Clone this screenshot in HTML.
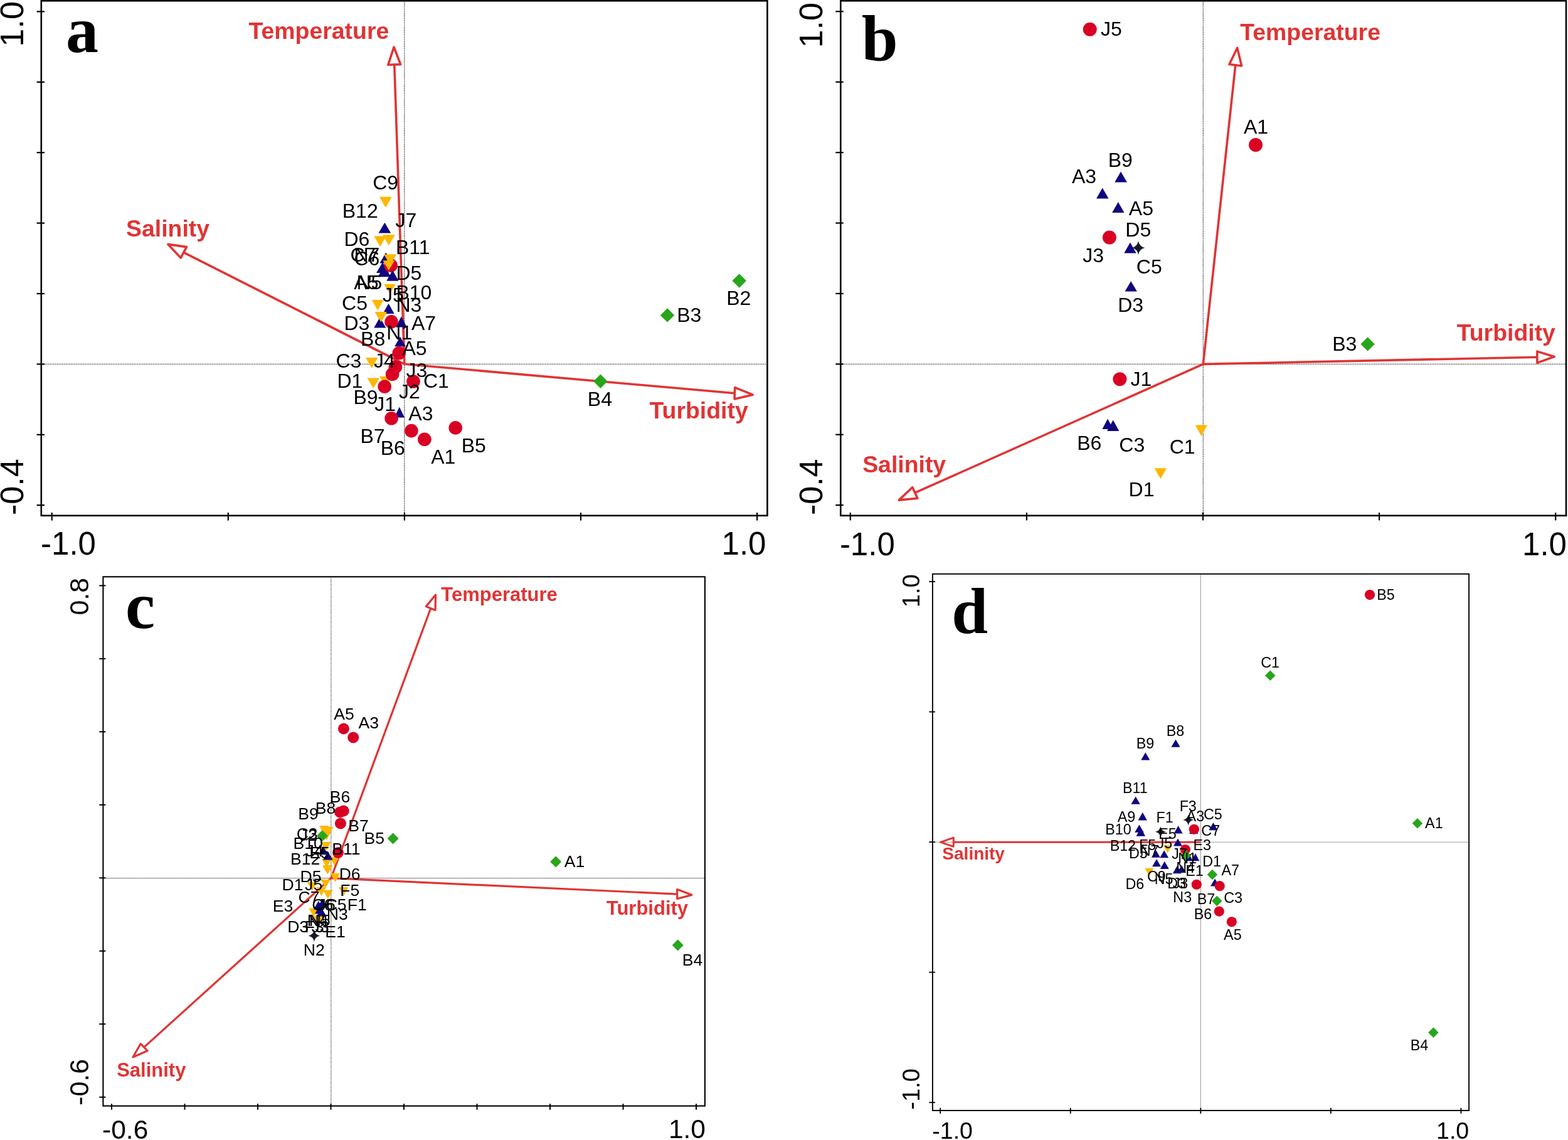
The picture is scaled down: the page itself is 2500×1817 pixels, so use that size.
<!DOCTYPE html>
<html><head><meta charset="utf-8"><title>CCA biplots</title>
<style>html,body{margin:0;padding:0;background:#fff;overflow:hidden;}svg{display:block;}</style>
</head><body>
<svg width="2500" height="1817" viewBox="0 0 2500 1817">
<rect x="0" y="0" width="2500" height="1817" fill="#fff"/>
<line x1="65.8" y1="580.3" x2="1223.4" y2="580.3" stroke="#222" stroke-width="1.3" stroke-dasharray="1.39 1.39"/>
<line x1="644.8" y1="1.3" x2="644.8" y2="821.8" stroke="#222" stroke-width="1.3" stroke-dasharray="1.39 1.39"/>
<line x1="58.6" y1="18.4" x2="71" y2="18.4" stroke="#000" stroke-width="2.2"/>
<line x1="58.6" y1="130.8" x2="71" y2="130.8" stroke="#000" stroke-width="2.2"/>
<line x1="58.6" y1="243.2" x2="71" y2="243.2" stroke="#000" stroke-width="2.2"/>
<line x1="58.6" y1="355.6" x2="71" y2="355.6" stroke="#000" stroke-width="2.2"/>
<line x1="58.6" y1="468" x2="71" y2="468" stroke="#000" stroke-width="2.2"/>
<line x1="58.6" y1="580.4" x2="71" y2="580.4" stroke="#000" stroke-width="2.2"/>
<line x1="58.6" y1="692.8" x2="71" y2="692.8" stroke="#000" stroke-width="2.2"/>
<line x1="58.6" y1="805.2" x2="71" y2="805.2" stroke="#000" stroke-width="2.2"/>
<line x1="82.7" y1="817" x2="82.7" y2="829.6" stroke="#000" stroke-width="2.2"/>
<line x1="363.8" y1="817" x2="363.8" y2="829.6" stroke="#000" stroke-width="2.2"/>
<line x1="644.9" y1="817" x2="644.9" y2="829.6" stroke="#000" stroke-width="2.2"/>
<line x1="926" y1="817" x2="926" y2="829.6" stroke="#000" stroke-width="2.2"/>
<line x1="1207.1" y1="817" x2="1207.1" y2="829.6" stroke="#000" stroke-width="2.2"/>
<text transform="translate(37.3,37.3) rotate(-90)" x="-37.18" y="0" font-size="52" font-family="Liberation Sans" fill="#000">1.0</text>
<text transform="translate(37.4,775.9) rotate(-90)" x="-45.11" y="0" font-size="52" font-family="Liberation Sans" fill="#000">-0.4</text>
<text x="65.09" y="884" font-size="51" font-family="Liberation Sans" fill="#000">-1.0</text>
<text x="1150.54" y="884" font-size="51" font-family="Liberation Sans" fill="#000">1.0</text>
<text x="104.88" y="82.7" font-size="104" font-family="Liberation Serif" font-weight="bold" fill="#000">a</text>
<line x1="644.8" y1="580.3" x2="628.78" y2="102.91" stroke="#E03434" stroke-width="3.6"/>
<path d="M628.04 75.04L618.87 103.24L638.69 102.59Z" fill="none" stroke="#E03434" stroke-width="3.6" stroke-linejoin="round"/>
<line x1="644.8" y1="580.3" x2="292.84" y2="402.3" stroke="#E03434" stroke-width="3.6"/>
<path d="M267.88 389.36L297.48 393.64L288.21 410.96Z" fill="none" stroke="#E03434" stroke-width="3.6" stroke-linejoin="round"/>
<line x1="644.8" y1="580.3" x2="1171.38" y2="626.75" stroke="#E03434" stroke-width="3.6"/>
<path d="M1200.17 629.18L1171.73 617.59L1171.03 635.9Z" fill="none" stroke="#E03434" stroke-width="3.6" stroke-linejoin="round"/>
<text x="396.53" y="62.1" font-size="37.4" font-family="Liberation Sans" font-weight="bold" fill="#E03434">Temperature</text>
<text x="201.08" y="376.6" font-size="37.4" font-family="Liberation Sans" font-weight="bold" fill="#E03434">Salinity</text>
<text x="1035.53" y="667.2" font-size="37.4" font-family="Liberation Sans" font-weight="bold" fill="#E03434">Turbidity</text>
<path d="M605 313.8L624.6 313.8L614.8 331Z" fill="#FFB700"/>
<path d="M596.2 376.3L615.9 376.3L606.05 393.3Z" fill="#FFB700"/>
<path d="M610 374.3L629.8 374.3L619.9 391.3Z" fill="#FFB700"/>
<path d="M612.2 405.5L631.7 405.5L621.95 422.5Z" fill="#FFB700"/>
<path d="M610.4 415.2L629.2 415.2L619.8 431Z" fill="#FFB700"/>
<path d="M612.2 452.8L631 452.8L621.6 468.6Z" fill="#FFB700"/>
<path d="M592.8 478L611.6 478L602.2 494.7Z" fill="#FFB700"/>
<path d="M597.7 497.1L617 497.1L607.35 513.5Z" fill="#FFB700"/>
<path d="M582.9 570.1L602.5 570.1L592.7 587.1Z" fill="#FFB700"/>
<path d="M585.5 602.5L605 602.5L595.25 618.9Z" fill="#FFB700"/>
<path d="M605 600L624.5 600L614.75 617Z" fill="#FFB700"/>
<path d="M613.35 354.7L623.2 371.4L603.5 371.4Z" fill="#10057F"/>
<path d="M615.25 402.5L625 419.5L605.5 419.5Z" fill="#10057F"/>
<path d="M610 418L620 435L600 435Z" fill="#10057F"/>
<path d="M612.85 424.3L623.2 441.3L602.5 441.3Z" fill="#10057F"/>
<path d="M625.9 431L635.3 447.4L616.5 447.4Z" fill="#10057F"/>
<path d="M619.5 483.8L628.6 500.1L610.4 500.1Z" fill="#10057F"/>
<path d="M605.75 505.6L615.3 522.6L596.2 522.6Z" fill="#10057F"/>
<path d="M639.8 504.4L648.6 521.4L631 521.4Z" fill="#10057F"/>
<path d="M638 536.6L646.8 552.3L629.2 552.3Z" fill="#10057F"/>
<path d="M636.8 648.6L645 665.6L628.6 665.6Z" fill="#10057F"/>
<circle cx="623.2" cy="423.1" r="10.8" fill="#DA0024"/>
<circle cx="624" cy="512.9" r="10.8" fill="#DA0024"/>
<circle cx="636.2" cy="562.8" r="10.8" fill="#DA0024"/>
<circle cx="630.4" cy="584.9" r="10.8" fill="#DA0024"/>
<circle cx="625.6" cy="596.4" r="10.8" fill="#DA0024"/>
<circle cx="659" cy="608" r="10.8" fill="#DA0024"/>
<circle cx="613.2" cy="616.2" r="10.8" fill="#DA0024"/>
<circle cx="624.1" cy="666.8" r="10.8" fill="#DA0024"/>
<circle cx="655.9" cy="686.6" r="10.8" fill="#DA0024"/>
<circle cx="676.8" cy="700.3" r="10.8" fill="#DA0024"/>
<circle cx="726.2" cy="681.9" r="10.8" fill="#DA0024"/>
<path d="M612.2 405.5L631.7 405.5L621.95 422.5Z" fill="#FFB700"/>
<path d="M610.4 415.2L629.2 415.2L619.8 431Z" fill="#FFB700"/>
<path d="M597.7 497.1L617 497.1L607.35 513.5Z" fill="#FFB700"/>
<path d="M625.9 431L635.3 447.4L616.5 447.4Z" fill="#10057F"/>
<path d="M1178.7 436.3L1189.9 447.5L1178.7 458.7L1167.5 447.5Z" fill="#27A61A"/>
<path d="M1064 491.2L1075.2 502.4L1064 513.6L1052.8 502.4Z" fill="#27A61A"/>
<path d="M957.4 596.6L968.6 607.8L957.4 619L946.2 607.8Z" fill="#27A61A"/>
<text x="594.2" y="301.9" font-size="32" font-family="Liberation Sans" fill="#000">C9</text>
<text x="545.74" y="347.4" font-size="32" font-family="Liberation Sans" fill="#000">B12</text>
<text x="630.52" y="362" font-size="32" font-family="Liberation Sans" fill="#000">J7</text>
<text x="548.44" y="391.7" font-size="32" font-family="Liberation Sans" fill="#000">D6</text>
<text x="630.94" y="405" font-size="32" font-family="Liberation Sans" fill="#000">B11</text>
<text x="558.4" y="416.6" font-size="32" font-family="Liberation Sans" fill="#000">C7</text>
<text x="564.44" y="416.6" font-size="32" font-family="Liberation Sans" fill="#000">N7</text>
<text x="564.4" y="423.2" font-size="32" font-family="Liberation Sans" fill="#000">C6</text>
<text x="631.44" y="445.5" font-size="32" font-family="Liberation Sans" fill="#000">D5</text>
<text x="564.3" y="460.7" font-size="32" font-family="Liberation Sans" fill="#000">A5</text>
<text x="568.44" y="460.7" font-size="32" font-family="Liberation Sans" fill="#000">N5</text>
<text x="609.92" y="480.7" font-size="32" font-family="Liberation Sans" fill="#000">J5</text>
<text x="631.44" y="476.5" font-size="32" font-family="Liberation Sans" fill="#000">B10</text>
<text x="545.1" y="493.5" font-size="32" font-family="Liberation Sans" fill="#000">C5</text>
<text x="631.44" y="496.5" font-size="32" font-family="Liberation Sans" fill="#000">N3</text>
<text x="548.44" y="526.2" font-size="32" font-family="Liberation Sans" fill="#000">D3</text>
<text x="655.9" y="525.6" font-size="32" font-family="Liberation Sans" fill="#000">A7</text>
<text x="616.34" y="541.4" font-size="32" font-family="Liberation Sans" fill="#000">N1</text>
<text x="575.04" y="551.1" font-size="32" font-family="Liberation Sans" fill="#000">B8</text>
<text x="641.4" y="566.3" font-size="32" font-family="Liberation Sans" fill="#000">A5</text>
<text x="535.4" y="586.1" font-size="32" font-family="Liberation Sans" fill="#000">C3</text>
<text x="596.02" y="585.5" font-size="32" font-family="Liberation Sans" fill="#000">J4</text>
<text x="647.52" y="600.7" font-size="32" font-family="Liberation Sans" fill="#000">J3</text>
<text x="675" y="617.7" font-size="32" font-family="Liberation Sans" fill="#000">C1</text>
<text x="537.44" y="617.7" font-size="32" font-family="Liberation Sans" fill="#000">D1</text>
<text x="563.44" y="644.4" font-size="32" font-family="Liberation Sans" fill="#000">B9</text>
<text x="636.02" y="634.7" font-size="32" font-family="Liberation Sans" fill="#000">J2</text>
<text x="597.22" y="654.7" font-size="32" font-family="Liberation Sans" fill="#000">J1</text>
<text x="651.3" y="670.2" font-size="32" font-family="Liberation Sans" fill="#000">A3</text>
<text x="574.44" y="705.7" font-size="32" font-family="Liberation Sans" fill="#000">B7</text>
<text x="606.64" y="725.1" font-size="32" font-family="Liberation Sans" fill="#000">B6</text>
<text x="687.2" y="739.1" font-size="32" font-family="Liberation Sans" fill="#000">A1</text>
<text x="735.74" y="720.8" font-size="32" font-family="Liberation Sans" fill="#000">B5</text>
<text x="1158.24" y="486.3" font-size="32" font-family="Liberation Sans" fill="#000">B2</text>
<text x="1079.24" y="512.6" font-size="32" font-family="Liberation Sans" fill="#000">B3</text>
<text x="936.84" y="646.8" font-size="32" font-family="Liberation Sans" fill="#000">B4</text>
<rect x="65.8" y="1.3" width="1157.6" height="820.5" fill="none" stroke="#000" stroke-width="2.6"/>
<line x1="1340.3" y1="580.4" x2="2497" y2="580.4" stroke="#222" stroke-width="1.3" stroke-dasharray="1.39 1.39"/>
<line x1="1918.3" y1="1.3" x2="1918.3" y2="821.8" stroke="#222" stroke-width="1.3" stroke-dasharray="1.39 1.39"/>
<line x1="1332.3" y1="18.3" x2="1344.7" y2="18.3" stroke="#000" stroke-width="2.2"/>
<line x1="1332.3" y1="130.7" x2="1344.7" y2="130.7" stroke="#000" stroke-width="2.2"/>
<line x1="1332.3" y1="243.1" x2="1344.7" y2="243.1" stroke="#000" stroke-width="2.2"/>
<line x1="1332.3" y1="355.5" x2="1344.7" y2="355.5" stroke="#000" stroke-width="2.2"/>
<line x1="1332.3" y1="467.9" x2="1344.7" y2="467.9" stroke="#000" stroke-width="2.2"/>
<line x1="1332.3" y1="580.3" x2="1344.7" y2="580.3" stroke="#000" stroke-width="2.2"/>
<line x1="1332.3" y1="692.7" x2="1344.7" y2="692.7" stroke="#000" stroke-width="2.2"/>
<line x1="1332.3" y1="805.1" x2="1344.7" y2="805.1" stroke="#000" stroke-width="2.2"/>
<line x1="1355.8" y1="817" x2="1355.8" y2="829.4" stroke="#000" stroke-width="2.2"/>
<line x1="1636.9" y1="817" x2="1636.9" y2="829.4" stroke="#000" stroke-width="2.2"/>
<line x1="1918" y1="817" x2="1918" y2="829.4" stroke="#000" stroke-width="2.2"/>
<line x1="2199.1" y1="817" x2="2199.1" y2="829.4" stroke="#000" stroke-width="2.2"/>
<line x1="2480.2" y1="817" x2="2480.2" y2="829.4" stroke="#000" stroke-width="2.2"/>
<text transform="translate(1311,39.2) rotate(-90)" x="-37.18" y="0" font-size="52" font-family="Liberation Sans" fill="#000">1.0</text>
<text transform="translate(1311,776) rotate(-90)" x="-45.11" y="0" font-size="52" font-family="Liberation Sans" fill="#000">-0.4</text>
<text x="1338.88" y="884.5" font-size="51" font-family="Liberation Sans" fill="#000">-1.0</text>
<text x="2427.03" y="884.5" font-size="51" font-family="Liberation Sans" fill="#000">1.0</text>
<text x="1373.86" y="96" font-size="104" font-family="Liberation Serif" font-weight="bold" fill="#000">b</text>
<line x1="1918.3" y1="580.4" x2="1969.78" y2="103.77" stroke="#E03434" stroke-width="3.6"/>
<path d="M1972.75 76.33L1959.97 102.56L1979.6 104.98Z" fill="none" stroke="#E03434" stroke-width="3.6" stroke-linejoin="round"/>
<line x1="1918.3" y1="580.4" x2="2450.86" y2="569.24" stroke="#E03434" stroke-width="3.6"/>
<path d="M2478.16 568.54L2450.87 560.15L2450.85 578.33Z" fill="none" stroke="#E03434" stroke-width="3.6" stroke-linejoin="round"/>
<line x1="1918.3" y1="580.4" x2="1458.82" y2="785.46" stroke="#E03434" stroke-width="3.6"/>
<path d="M1433.21 797.1L1454.74 776.72L1462.89 794.21Z" fill="none" stroke="#E03434" stroke-width="3.6" stroke-linejoin="round"/>
<text x="1977.23" y="63.5" font-size="37.4" font-family="Liberation Sans" font-weight="bold" fill="#E03434">Temperature</text>
<text x="2322.73" y="542.6" font-size="37.4" font-family="Liberation Sans" font-weight="bold" fill="#E03434">Turbidity</text>
<text x="1375.18" y="753" font-size="37.4" font-family="Liberation Sans" font-weight="bold" fill="#E03434">Salinity</text>
<path d="M1905.7 677.5L1925 677.5L1915.35 695Z" fill="#FFB700"/>
<path d="M1840.5 746.3L1860.2 746.3L1850.35 763.2Z" fill="#FFB700"/>
<path d="M1787.05 273.5L1796.9 290.5L1777.2 290.5Z" fill="#10057F"/>
<path d="M1757.75 299.5L1767.5 316.5L1748 316.5Z" fill="#10057F"/>
<path d="M1782.8 322.1L1792.5 338.9L1773.1 338.9Z" fill="#10057F"/>
<path d="M1801.95 386.5L1811.7 403.5L1792.2 403.5Z" fill="#10057F"/>
<path d="M1803.2 448.2L1812.9 464.6L1793.5 464.6Z" fill="#10057F"/>
<path d="M1766.1 667.4L1774.8 684.1L1757.4 684.1Z" fill="#10057F"/>
<path d="M1774.7 669.5L1784.4 687.1L1765 687.1Z" fill="#10057F"/>
<circle cx="1737.7" cy="46.8" r="11" fill="#DA0024"/>
<circle cx="2002" cy="231" r="11" fill="#DA0024"/>
<circle cx="1768.9" cy="378.5" r="11" fill="#DA0024"/>
<circle cx="1785.4" cy="604.3" r="11" fill="#DA0024"/>
<path d="M2180.6 537.2L2191.8 548.4L2180.6 559.6L2169.4 548.4Z" fill="#27A61A"/>
<path d="M1815 384Q1816.68 393.24 1825.5 395Q1816.68 396.76 1815 406Q1813.32 396.76 1804.5 395Q1813.32 393.24 1815 384Z" fill="#161A27"/>
<text x="1754.92" y="56.9" font-size="32" font-family="Liberation Sans" fill="#000">J5</text>
<text x="1982.9" y="213" font-size="32" font-family="Liberation Sans" fill="#000">A1</text>
<text x="1766.64" y="266.3" font-size="32" font-family="Liberation Sans" fill="#000">B9</text>
<text x="1708.9" y="292.3" font-size="32" font-family="Liberation Sans" fill="#000">A3</text>
<text x="1799.8" y="343.3" font-size="32" font-family="Liberation Sans" fill="#000">A5</text>
<text x="1794.34" y="376.8" font-size="32" font-family="Liberation Sans" fill="#000">D5</text>
<text x="1726.22" y="417.6" font-size="32" font-family="Liberation Sans" fill="#000">J3</text>
<text x="1811.8" y="436.3" font-size="32" font-family="Liberation Sans" fill="#000">C5</text>
<text x="1782.24" y="497.4" font-size="32" font-family="Liberation Sans" fill="#000">D3</text>
<text x="1802.42" y="614.6" font-size="32" font-family="Liberation Sans" fill="#000">J1</text>
<text x="1717.14" y="717" font-size="32" font-family="Liberation Sans" fill="#000">B6</text>
<text x="1784.3" y="720" font-size="32" font-family="Liberation Sans" fill="#000">C3</text>
<text x="1864.7" y="722.6" font-size="32" font-family="Liberation Sans" fill="#000">C1</text>
<text x="1799.54" y="790.9" font-size="32" font-family="Liberation Sans" fill="#000">D1</text>
<text x="2124.24" y="558.5" font-size="32" font-family="Liberation Sans" fill="#000">B3</text>
<rect x="1340.3" y="1.3" width="1156.7" height="820.5" fill="none" stroke="#000" stroke-width="2.6"/>
<line x1="164.4" y1="1399.7" x2="1123.9" y2="1399.7" stroke="#2a2a2a" stroke-width="1.2" stroke-dasharray="1.17 1.17"/>
<line x1="527.8" y1="919.3" x2="527.8" y2="1762.7" stroke="#2a2a2a" stroke-width="1.2" stroke-dasharray="1.17 1.17"/>
<line x1="158.3" y1="933.4" x2="168.4" y2="933.4" stroke="#000" stroke-width="2"/>
<line x1="158.3" y1="1049.87" x2="168.4" y2="1049.87" stroke="#000" stroke-width="2"/>
<line x1="158.3" y1="1166.34" x2="168.4" y2="1166.34" stroke="#000" stroke-width="2"/>
<line x1="158.3" y1="1282.81" x2="168.4" y2="1282.81" stroke="#000" stroke-width="2"/>
<line x1="158.3" y1="1399.28" x2="168.4" y2="1399.28" stroke="#000" stroke-width="2"/>
<line x1="158.3" y1="1515.75" x2="168.4" y2="1515.75" stroke="#000" stroke-width="2"/>
<line x1="158.3" y1="1632.22" x2="168.4" y2="1632.22" stroke="#000" stroke-width="2"/>
<line x1="158.3" y1="1748.69" x2="168.4" y2="1748.69" stroke="#000" stroke-width="2"/>
<line x1="178" y1="1759.2" x2="178" y2="1768.7" stroke="#000" stroke-width="2"/>
<line x1="294.5" y1="1759.2" x2="294.5" y2="1768.7" stroke="#000" stroke-width="2"/>
<line x1="411" y1="1759.2" x2="411" y2="1768.7" stroke="#000" stroke-width="2"/>
<line x1="527.5" y1="1759.2" x2="527.5" y2="1768.7" stroke="#000" stroke-width="2"/>
<line x1="644" y1="1759.2" x2="644" y2="1768.7" stroke="#000" stroke-width="2"/>
<line x1="760.5" y1="1759.2" x2="760.5" y2="1768.7" stroke="#000" stroke-width="2"/>
<line x1="877" y1="1759.2" x2="877" y2="1768.7" stroke="#000" stroke-width="2"/>
<line x1="993.5" y1="1759.2" x2="993.5" y2="1768.7" stroke="#000" stroke-width="2"/>
<line x1="1110" y1="1759.2" x2="1110" y2="1768.7" stroke="#000" stroke-width="2"/>
<text transform="translate(141.1,950.7) rotate(-90)" x="-29.89" y="0" font-size="43" font-family="Liberation Sans" fill="#000">0.8</text>
<text transform="translate(141.3,1724.8) rotate(-90)" x="-37.09" y="0" font-size="43" font-family="Liberation Sans" fill="#000">-0.6</text>
<text x="163.04" y="1814.5" font-size="42.5" font-family="Liberation Sans" fill="#000">-0.6</text>
<text x="1065.91" y="1814.3" font-size="42.5" font-family="Liberation Sans" fill="#000">1.0</text>
<text x="199.99" y="1001.4" font-size="106" font-family="Liberation Serif" font-weight="bold" fill="#000">c</text>
<line x1="527.8" y1="1399.7" x2="686.69" y2="969.53" stroke="#E03434" stroke-width="3.2"/>
<path d="M694.56 948.1L679.28 966.63L694.09 972.43Z" fill="none" stroke="#E03434" stroke-width="3.2" stroke-linejoin="round"/>
<line x1="527.8" y1="1399.7" x2="1079.69" y2="1425.07" stroke="#E03434" stroke-width="3.2"/>
<path d="M1102.82 1426.33L1079.67 1417.59L1079.71 1432.55Z" fill="none" stroke="#E03434" stroke-width="3.2" stroke-linejoin="round"/>
<line x1="527.8" y1="1399.7" x2="229.65" y2="1669.16" stroke="#E03434" stroke-width="3.2"/>
<path d="M211.95 1684.95L224.16 1663.56L235.14 1674.77Z" fill="none" stroke="#E03434" stroke-width="3.2" stroke-linejoin="round"/>
<text x="703.29" y="958.1" font-size="31" font-family="Liberation Sans" font-weight="bold" fill="#E03434">Temperature</text>
<text x="966.79" y="1457.8" font-size="31" font-family="Liberation Sans" font-weight="bold" fill="#E03434">Turbidity</text>
<text x="186.17" y="1715.5" font-size="31" font-family="Liberation Sans" font-weight="bold" fill="#E03434">Salinity</text>
<path d="M509 1316L524.5 1316L516.75 1330Z" fill="#FFB700"/>
<path d="M516 1318L531.5 1318L523.75 1332Z" fill="#FFB700"/>
<path d="M513 1325L528.5 1325L520.75 1339Z" fill="#FFB700"/>
<path d="M512 1342L527.5 1342L519.75 1356Z" fill="#FFB700"/>
<path d="M513 1369L528.5 1369L520.75 1383Z" fill="#FFB700"/>
<path d="M515 1379L530.5 1379L522.75 1393Z" fill="#FFB700"/>
<path d="M525.5 1365.8L541 1365.8L533.25 1379.8Z" fill="#FFB700"/>
<path d="M526.8 1392.1L542.3 1392.1L534.55 1406.1Z" fill="#FFB700"/>
<path d="M514.2 1379.5L529.7 1379.5L521.95 1393.5Z" fill="#FFB700"/>
<path d="M511.3 1401.8L526.8 1401.8L519.05 1415.8Z" fill="#FFB700"/>
<path d="M504.5 1414L520 1414L512.25 1428Z" fill="#FFB700"/>
<path d="M515.1 1418.8L530.6 1418.8L522.85 1432.8Z" fill="#FFB700"/>
<path d="M489.9 1406L505.4 1406L497.65 1420Z" fill="#FFB700"/>
<path d="M539.9 1414L555.4 1414L547.65 1428Z" fill="#FFB700"/>
<path d="M492.3 1447.5L507.8 1447.5L500.05 1461.5Z" fill="#FFB700"/>
<path d="M500 1460L515.5 1460L507.75 1474Z" fill="#FFB700"/>
<path d="M515.25 1348.8L523 1362.3L507.5 1362.3Z" fill="#10057F"/>
<path d="M522.75 1357L530.5 1370.5L515 1370.5Z" fill="#10057F"/>
<path d="M507.75 1436L515.5 1449.5L500 1449.5Z" fill="#10057F"/>
<path d="M513.75 1433L521.5 1446.5L506 1446.5Z" fill="#10057F"/>
<path d="M509.75 1443L517.5 1456.5L502 1456.5Z" fill="#10057F"/>
<path d="M512.75 1447L520.5 1460.5L505 1460.5Z" fill="#10057F"/>
<circle cx="547.9" cy="1161.5" r="9" fill="#DA0024"/>
<circle cx="563.2" cy="1175.4" r="9" fill="#DA0024"/>
<circle cx="542" cy="1294.5" r="9" fill="#DA0024"/>
<circle cx="547.8" cy="1292.5" r="9" fill="#DA0024"/>
<circle cx="542.9" cy="1312.4" r="9" fill="#DA0024"/>
<circle cx="539" cy="1359" r="9" fill="#DA0024"/>
<path d="M513.8 1323.3L522.8 1332.3L513.8 1341.3L504.8 1332.3Z" fill="#27A61A"/>
<path d="M626.6 1327.4L635.6 1336.4L626.6 1345.4L617.6 1336.4Z" fill="#27A61A"/>
<path d="M886.2 1364.6L895.2 1373.6L886.2 1382.6L877.2 1373.6Z" fill="#27A61A"/>
<path d="M1080.7 1497.6L1089.7 1506.6L1080.7 1515.6L1071.7 1506.6Z" fill="#27A61A"/>
<path d="M500.9 1482.3Q502.37 1490.03 510.1 1491.5Q502.37 1492.97 500.9 1500.7Q499.43 1492.97 491.7 1491.5Q499.43 1490.03 500.9 1482.3Z" fill="#161A27"/>
<text x="532.3" y="1147" font-size="26.6" font-family="Liberation Sans" fill="#000">A5</text>
<text x="571.6" y="1160.6" font-size="26.6" font-family="Liberation Sans" fill="#000">A3</text>
<text x="525.77" y="1278.9" font-size="26.6" font-family="Liberation Sans" fill="#000">B6</text>
<text x="502.87" y="1297.4" font-size="26.6" font-family="Liberation Sans" fill="#000">B8</text>
<text x="475.27" y="1305.6" font-size="26.6" font-family="Liberation Sans" fill="#000">B9</text>
<text x="555.37" y="1324.6" font-size="26.6" font-family="Liberation Sans" fill="#000">B7</text>
<text x="472.67" y="1337.7" font-size="26.6" font-family="Liberation Sans" fill="#000">C3</text>
<text x="477.6" y="1339.5" font-size="26.6" font-family="Liberation Sans" fill="#000">J2</text>
<text x="580.47" y="1345.2" font-size="26.6" font-family="Liberation Sans" fill="#000">B5</text>
<text x="467.47" y="1353.2" font-size="26.6" font-family="Liberation Sans" fill="#000">B10</text>
<text x="529.17" y="1361.9" font-size="26.6" font-family="Liberation Sans" fill="#000">B11</text>
<text x="487.6" y="1365" font-size="26.6" font-family="Liberation Sans" fill="#000">J4</text>
<text x="493.37" y="1367.7" font-size="26.6" font-family="Liberation Sans" fill="#000">E5</text>
<text x="463.07" y="1378.4" font-size="26.6" font-family="Liberation Sans" fill="#000">B12</text>
<text x="899.8" y="1382.4" font-size="26.6" font-family="Liberation Sans" fill="#000">A1</text>
<text x="478.57" y="1405.7" font-size="26.6" font-family="Liberation Sans" fill="#000">D5</text>
<text x="540.67" y="1402.3" font-size="26.6" font-family="Liberation Sans" fill="#000">D6</text>
<text x="449.47" y="1418.8" font-size="26.6" font-family="Liberation Sans" fill="#000">D1</text>
<text x="486.1" y="1418.8" font-size="26.6" font-family="Liberation Sans" fill="#000">J5</text>
<text x="542.17" y="1428.1" font-size="26.6" font-family="Liberation Sans" fill="#000">F5</text>
<text x="475.47" y="1438.7" font-size="26.6" font-family="Liberation Sans" fill="#000">C7</text>
<text x="434.87" y="1453.3" font-size="26.6" font-family="Liberation Sans" fill="#000">E3</text>
<text x="497.27" y="1451.4" font-size="26.6" font-family="Liberation Sans" fill="#000">C6</text>
<text x="506.6" y="1451.4" font-size="26.6" font-family="Liberation Sans" fill="#000">J6</text>
<text x="518.67" y="1451.4" font-size="26.6" font-family="Liberation Sans" fill="#000">C5</text>
<text x="553.77" y="1450.9" font-size="26.6" font-family="Liberation Sans" fill="#000">F1</text>
<text x="520.77" y="1465.9" font-size="26.6" font-family="Liberation Sans" fill="#000">N3</text>
<text x="489.67" y="1476.1" font-size="26.6" font-family="Liberation Sans" fill="#000">N4</text>
<text x="492.87" y="1476.1" font-size="26.6" font-family="Liberation Sans" fill="#000">N5</text>
<text x="458.17" y="1485.8" font-size="26.6" font-family="Liberation Sans" fill="#000">D3</text>
<text x="485.87" y="1485.8" font-size="26.6" font-family="Liberation Sans" fill="#000">F3</text>
<text x="496.6" y="1485.8" font-size="26.6" font-family="Liberation Sans" fill="#000">J3</text>
<text x="518.37" y="1494.1" font-size="26.6" font-family="Liberation Sans" fill="#000">E1</text>
<text x="483.87" y="1523.2" font-size="26.6" font-family="Liberation Sans" fill="#000">N2</text>
<text x="1087.67" y="1538.8" font-size="26.6" font-family="Liberation Sans" fill="#000">B4</text>
<rect x="164.4" y="919.3" width="959.5" height="843.4" fill="none" stroke="#000" stroke-width="2.1"/>
<line x1="1486.9" y1="1342.2" x2="2342.1" y2="1342.2" stroke="#3a3a3a" stroke-width="1.1" stroke-dasharray="1 1"/>
<line x1="1914.3" y1="914.8" x2="1914.3" y2="1770" stroke="#3a3a3a" stroke-width="1.1" stroke-dasharray="1 1"/>
<line x1="1481.3" y1="927" x2="1491" y2="927" stroke="#000" stroke-width="1.8"/>
<line x1="1481.3" y1="1134.55" x2="1491" y2="1134.55" stroke="#000" stroke-width="1.8"/>
<line x1="1481.3" y1="1342.1" x2="1491" y2="1342.1" stroke="#000" stroke-width="1.8"/>
<line x1="1481.3" y1="1549.65" x2="1491" y2="1549.65" stroke="#000" stroke-width="1.8"/>
<line x1="1481.3" y1="1757.2" x2="1491" y2="1757.2" stroke="#000" stroke-width="1.8"/>
<line x1="1499.2" y1="1765.8" x2="1499.2" y2="1775" stroke="#000" stroke-width="1.8"/>
<line x1="1706.75" y1="1765.8" x2="1706.75" y2="1775" stroke="#000" stroke-width="1.8"/>
<line x1="1914.3" y1="1765.8" x2="1914.3" y2="1775" stroke="#000" stroke-width="1.8"/>
<line x1="2121.85" y1="1765.8" x2="2121.85" y2="1775" stroke="#000" stroke-width="1.8"/>
<line x1="2329.4" y1="1765.8" x2="2329.4" y2="1775" stroke="#000" stroke-width="1.8"/>
<text transform="translate(1466.1,941) rotate(-90)" x="-27.17" y="0" font-size="38" font-family="Liberation Sans" fill="#000">1.0</text>
<text transform="translate(1466.1,1735.8) rotate(-90)" x="-32.87" y="0" font-size="38" font-family="Liberation Sans" fill="#000">-1.0</text>
<text x="1486.36" y="1815.4" font-size="37.5" font-family="Liberation Sans" fill="#000">-1.0</text>
<text x="2290.09" y="1815.4" font-size="37.5" font-family="Liberation Sans" fill="#000">1.0</text>
<text x="1517.24" y="1009.3" font-size="104" font-family="Liberation Serif" font-weight="bold" fill="#000">d</text>
<line x1="1914.3" y1="1342.2" x2="1520.27" y2="1342.25" stroke="#E03434" stroke-width="3"/>
<path d="M1499.6 1342.3L1520.27 1335.15L1520.27 1349.35Z" fill="none" stroke="#E03434" stroke-width="3" stroke-linejoin="round"/>
<text x="1502.36" y="1370.4" font-size="28" font-family="Liberation Sans" font-weight="bold" fill="#E03434">Salinity</text>
<path d="M1854.6 1347.3L1868.6 1347.3L1861.6 1359.3Z" fill="#FFB700"/>
<path d="M1825.3 1383.7L1839.5 1383.7L1832.4 1395.7Z" fill="#FFB700"/>
<path d="M1874.5 1178.6L1881.6 1190.7L1867.4 1190.7Z" fill="#10057F"/>
<path d="M1826.3 1199.2L1833.4 1211.6L1819.2 1211.6Z" fill="#10057F"/>
<path d="M1810.65 1269.6L1817.9 1281.7L1803.4 1281.7Z" fill="#10057F"/>
<path d="M1821.75 1294.7L1828.9 1307.4L1814.6 1307.4Z" fill="#10057F"/>
<path d="M1934.4 1311.1L1941.4 1323.2L1927.4 1323.2Z" fill="#10057F"/>
<path d="M1816.4 1314.6L1823.7 1326.7L1809.1 1326.7Z" fill="#10057F"/>
<path d="M1818.85 1319.4L1826.1 1332.8L1811.6 1332.8Z" fill="#10057F"/>
<path d="M1878.6 1316.1L1885.6 1328.5L1871.6 1328.5Z" fill="#10057F"/>
<path d="M1903.1 1317L1910.2 1329L1896 1329Z" fill="#10057F"/>
<path d="M1878 1336.4L1885 1348.5L1871 1348.5Z" fill="#10057F"/>
<path d="M1842.8 1354.6L1849.8 1366.7L1835.8 1366.7Z" fill="#10057F"/>
<path d="M1856.15 1355.2L1863.1 1367.3L1849.2 1367.3Z" fill="#10057F"/>
<path d="M1905.9 1360.1L1912.3 1372.2L1899.5 1372.2Z" fill="#10057F"/>
<path d="M1895.3 1360L1902 1372.2L1888.6 1372.2Z" fill="#10057F"/>
<path d="M1844 1369.2L1851 1381.3L1837 1381.3Z" fill="#10057F"/>
<path d="M1856.75 1372.8L1863.7 1384.9L1849.8 1384.9Z" fill="#10057F"/>
<path d="M1876.8 1380.1L1883.8 1392.2L1869.8 1392.2Z" fill="#10057F"/>
<path d="M1884 1379L1891 1391L1877 1391Z" fill="#10057F"/>
<path d="M1937.1 1400.5L1944.2 1412.6L1930 1412.6Z" fill="#10057F"/>
<circle cx="2184" cy="948.1" r="8.1" fill="#DA0024"/>
<circle cx="1903.8" cy="1321.8" r="8.1" fill="#DA0024"/>
<circle cx="1889.8" cy="1354" r="8.1" fill="#DA0024"/>
<circle cx="1907.8" cy="1409.8" r="8.1" fill="#DA0024"/>
<circle cx="1944.7" cy="1412.2" r="8.1" fill="#DA0024"/>
<circle cx="1943.8" cy="1452.6" r="8.1" fill="#DA0024"/>
<circle cx="1963.8" cy="1469.3" r="8.1" fill="#DA0024"/>
<path d="M2025.2 1068.5L2033.5 1076.8L2025.2 1085.1L2016.9 1076.8Z" fill="#27A61A"/>
<path d="M2259.9 1303.9L2268.2 1312.2L2259.9 1320.5L2251.6 1312.2Z" fill="#27A61A"/>
<path d="M2285.3 1637.4L2293.6 1645.7L2285.3 1654L2277 1645.7Z" fill="#27A61A"/>
<path d="M1890.8 1355.4L1899.1 1363.7L1890.8 1372L1882.5 1363.7Z" fill="#27A61A"/>
<path d="M1932.9 1385.7L1941.2 1394L1932.9 1402.3L1924.6 1394Z" fill="#27A61A"/>
<path d="M1940.2 1427.8L1948.5 1436.1L1940.2 1444.4L1931.9 1436.1Z" fill="#27A61A"/>
<path d="M1894.7 1298.2Q1896.08 1305.42 1903.3 1306.8Q1896.08 1308.18 1894.7 1315.4Q1893.32 1308.18 1886.1 1306.8Q1893.32 1305.42 1894.7 1298.2Z" fill="#161A27"/>
<path d="M1850.4 1317.2Q1851.78 1324.42 1859 1325.8Q1851.78 1327.18 1850.4 1334.4Q1849.02 1327.18 1841.8 1325.8Q1849.02 1324.42 1850.4 1317.2Z" fill="#161A27"/>
<text x="2195.24" y="955.7" font-size="23.3" font-family="Liberation Sans" fill="#000">B5</text>
<text x="2010.13" y="1063.7" font-size="23.3" font-family="Liberation Sans" fill="#000">C1</text>
<text x="1859.84" y="1172.8" font-size="23.3" font-family="Liberation Sans" fill="#000">B8</text>
<text x="1811.84" y="1193.4" font-size="23.3" font-family="Liberation Sans" fill="#000">B9</text>
<text x="1789.94" y="1264.4" font-size="23.3" font-family="Liberation Sans" fill="#000">B11</text>
<text x="1880.64" y="1292.9" font-size="23.3" font-family="Liberation Sans" fill="#000">F3</text>
<text x="1919.04" y="1305.6" font-size="23.3" font-family="Liberation Sans" fill="#000">C5</text>
<text x="1891.6" y="1308.6" font-size="23.3" font-family="Liberation Sans" fill="#000">A3</text>
<text x="1781.8" y="1309.9" font-size="23.3" font-family="Liberation Sans" fill="#000">A9</text>
<text x="1843.44" y="1310.5" font-size="23.3" font-family="Liberation Sans" fill="#000">F1</text>
<text x="2272.1" y="1320" font-size="23.3" font-family="Liberation Sans" fill="#000">A1</text>
<text x="1762.34" y="1329.9" font-size="23.3" font-family="Liberation Sans" fill="#000">B10</text>
<text x="1915.34" y="1332.2" font-size="23.3" font-family="Liberation Sans" fill="#000">C7</text>
<text x="1847.34" y="1337" font-size="23.3" font-family="Liberation Sans" fill="#000">E5</text>
<text x="1844.55" y="1351.6" font-size="23.3" font-family="Liberation Sans" fill="#000">J5</text>
<text x="1816.14" y="1355.2" font-size="23.3" font-family="Liberation Sans" fill="#000">F5</text>
<text x="1902.54" y="1354.6" font-size="23.3" font-family="Liberation Sans" fill="#000">E3</text>
<text x="1769.64" y="1356.4" font-size="23.3" font-family="Liberation Sans" fill="#000">B12</text>
<text x="1817.64" y="1364" font-size="23.3" font-family="Liberation Sans" fill="#000">N7</text>
<text x="1800.04" y="1367.9" font-size="23.3" font-family="Liberation Sans" fill="#000">D5</text>
<text x="1868.25" y="1369.2" font-size="23.3" font-family="Liberation Sans" fill="#000">J7</text>
<text x="1878.14" y="1376" font-size="23.3" font-family="Liberation Sans" fill="#000">N1</text>
<text x="1917.14" y="1380.7" font-size="23.3" font-family="Liberation Sans" fill="#000">D1</text>
<text x="1875.24" y="1391" font-size="23.3" font-family="Liberation Sans" fill="#000">N4</text>
<text x="1890.34" y="1395.9" font-size="23.3" font-family="Liberation Sans" fill="#000">E1</text>
<text x="1947.5" y="1395.2" font-size="23.3" font-family="Liberation Sans" fill="#000">A7</text>
<text x="1828.93" y="1405" font-size="23.3" font-family="Liberation Sans" fill="#000">C9</text>
<text x="1840.64" y="1409.2" font-size="23.3" font-family="Liberation Sans" fill="#000">N5</text>
<text x="1861.24" y="1415.9" font-size="23.3" font-family="Liberation Sans" fill="#000">D3</text>
<text x="1869.65" y="1415.9" font-size="23.3" font-family="Liberation Sans" fill="#000">J3</text>
<text x="1794.54" y="1416.5" font-size="23.3" font-family="Liberation Sans" fill="#000">D6</text>
<text x="1870.34" y="1438.3" font-size="23.3" font-family="Liberation Sans" fill="#000">N3</text>
<text x="1908.64" y="1440.7" font-size="23.3" font-family="Liberation Sans" fill="#000">B7</text>
<text x="1951.13" y="1438.9" font-size="23.3" font-family="Liberation Sans" fill="#000">C3</text>
<text x="1903.74" y="1465" font-size="23.3" font-family="Liberation Sans" fill="#000">B6</text>
<text x="1951.1" y="1497.8" font-size="23.3" font-family="Liberation Sans" fill="#000">A5</text>
<text x="2248.84" y="1674.1" font-size="23.3" font-family="Liberation Sans" fill="#000">B4</text>
<rect x="1486.9" y="914.8" width="855.2" height="855.2" fill="none" stroke="#000" stroke-width="1.9"/>
</svg>
</body></html>
